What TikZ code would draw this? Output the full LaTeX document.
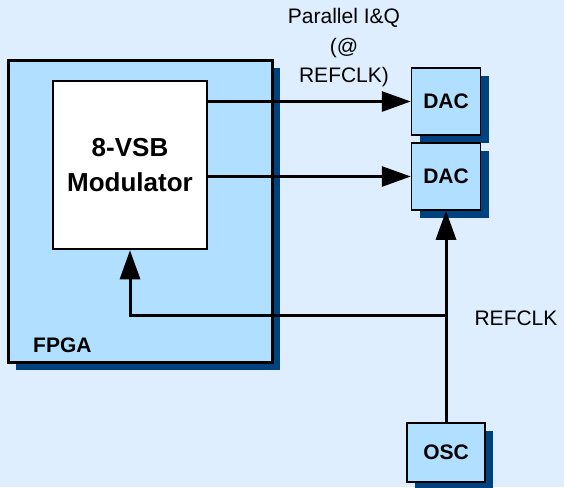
\documentclass[tikz,border=0pt]{standalone}
\usepackage{fontspec}
\setmainfont{Liberation Sans}
\usetikzlibrary{arrows.meta,shadows}

\definecolor{bgblue}{RGB}{222,238,255}
\definecolor{boxblue}{RGB}{176,223,255}
\definecolor{shadowblue}{RGB}{0,66,128}

\tikzset{
	box/.style={draw, fill=boxblue, inner sep=0pt, align=center,
		font=\fontsize{21}{25}\selectfont\bfseries},
	block/.style={box,
		drop shadow={shadow xshift=8pt, shadow yshift=-8pt, fill=shadowblue, opacity=1}},
	sig/.style={line width=3pt, -{Triangle[length=29pt,width=20pt]}},
	lbl/.style={font=\fontsize{21}{29.5}\selectfont, align=center},
}

\begin{document}
\begin{tikzpicture}[x=1pt, y=-1pt]

	% Background
	\path[use as bounding box, fill=bgblue] (0,0) rectangle (564,487);

	% FPGA and modulator
	\node[block, line width=3pt, minimum width=264pt, minimum height=302pt] (fpga) at (140,211) {};
	\node[font=\fontsize{21}{25}\selectfont\bfseries, anchor=base west, inner sep=0pt] (fpgalbl) at (33,352) {FPGA};
	\node[box, fill=white, line width=2.5pt, minimum width=154pt, minimum height=168pt,
		font=\fontsize{26}{35}\selectfont\bfseries] (mod) at (130,165) {8-VSB\\Modulator};

	% DACs and oscillator
	\node[block, line width=1.5pt, minimum width=69pt, minimum height=67pt] (dac1) at (446,101.5) {DAC};
	\node[block, line width=1.5pt, minimum width=69pt, minimum height=67pt] (dac2) at (446,176.5) {DAC};
	\node[block, line width=2.5pt, minimum width=78pt, minimum height=59pt] (osc) at (446,452.5) {OSC};

	% Data paths
	\draw[sig] (mod.east |- dac1.west) -- (dac1.west);
	\draw[sig] (mod.east |- dac2.west) -- (dac2.west);

	% Clock
	\coordinate (tap) at (osc.north |- 0,315);
	\draw[sig] (osc.north) -- (dac2.south);
	\draw[sig] (tap) -| (mod.south);

	% Labels
	\node[lbl] (iq) at (344,48) {Parallel I\&Q\\(@\\REFCLK)};
	\node[lbl] (clk) at (516,318) {REFCLK};
\end{tikzpicture}
\end{document}
